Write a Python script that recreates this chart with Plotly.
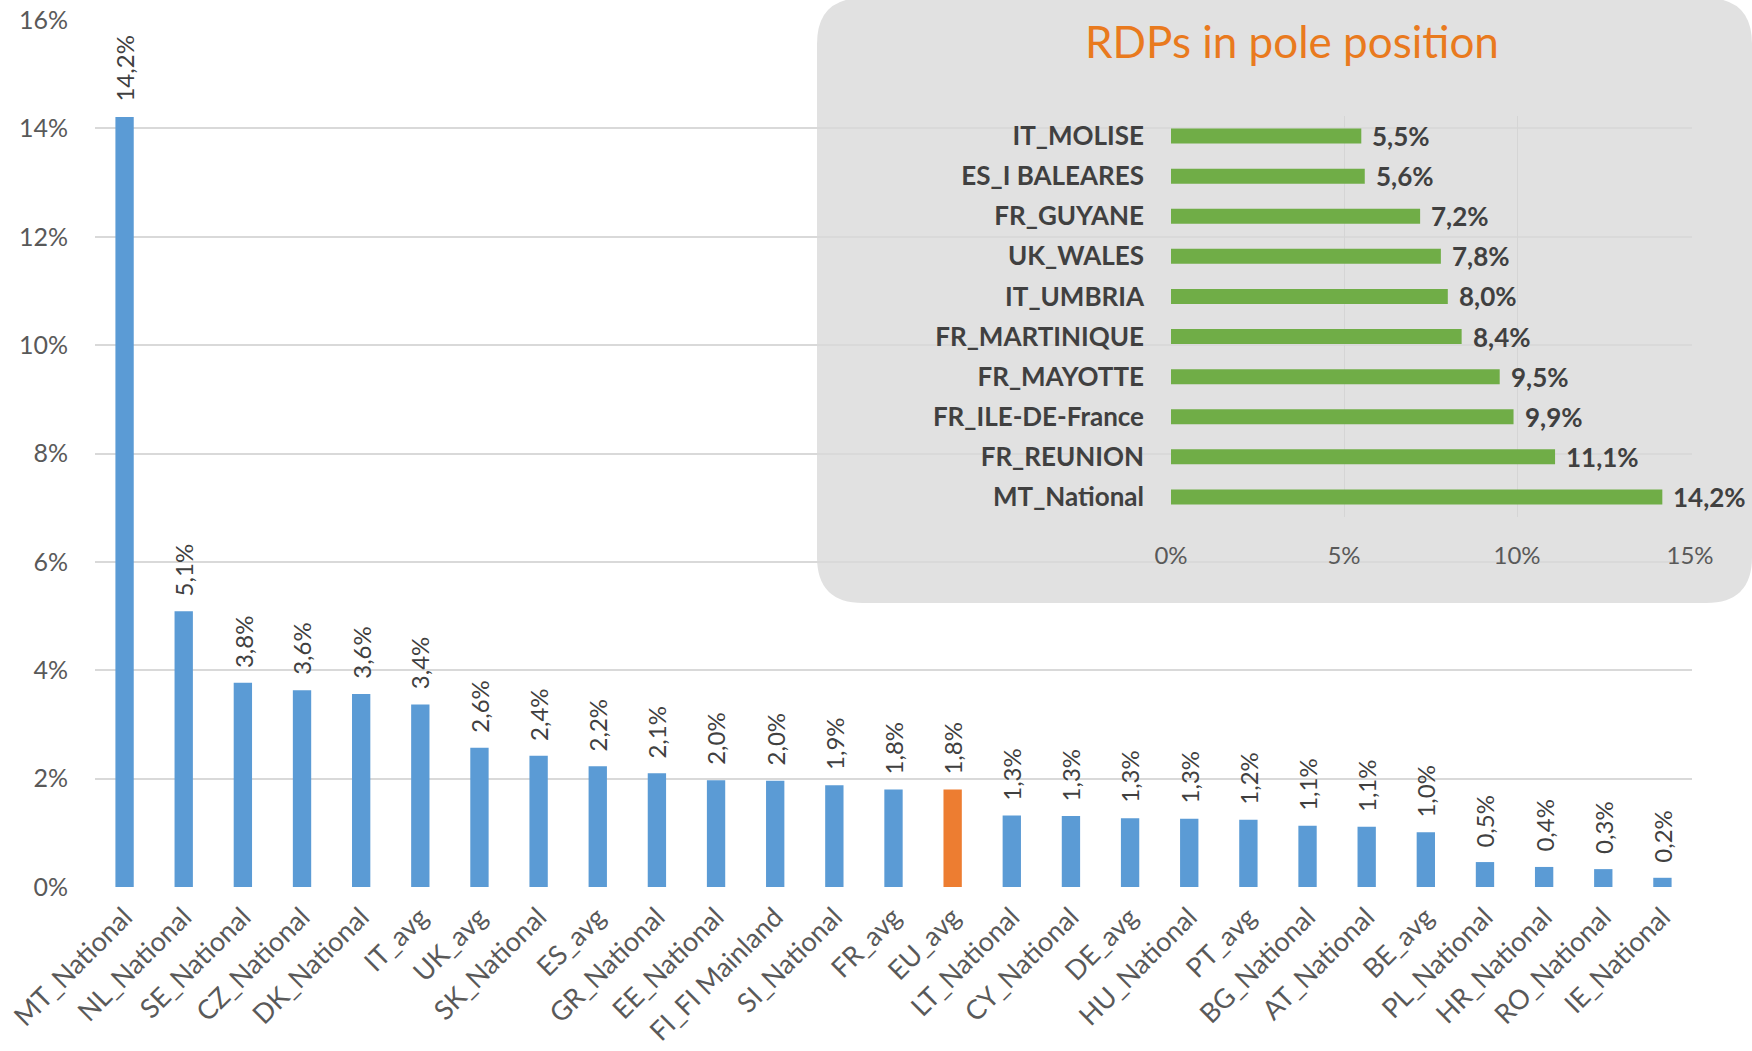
import plotly.graph_objects as go

W, H = 1752, 1051

categories = ["MT_National", "NL_National", "SE_National", "CZ_National", "DK_National",
              "IT_avg", "UK_avg", "SK_National", "ES_avg", "GR_National", "EE_National",
              "FI_FI Mainland", "SI_National", "FR_avg", "EU_avg", "LT_National",
              "CY_National", "DE_avg", "HU_National", "PT_avg", "BG_National",
              "AT_National", "BE_avg", "PL_National", "HR_National", "RO_National",
              "IE_National"]
values = [14.21, 5.09, 3.77, 3.63, 3.56, 3.37, 2.57, 2.42, 2.23, 2.10, 1.97,
          1.96, 1.88, 1.80, 1.80, 1.32, 1.31, 1.27, 1.26, 1.24, 1.13,
          1.11, 1.01, 0.46, 0.37, 0.33, 0.17]
highlight = "EU_avg"

inset_regions = ["IT_MOLISE", "ES_I BALEARES", "FR_GUYANE", "UK_WALES", "IT_UMBRIA",
                 "FR_MARTINIQUE", "FR_MAYOTTE", "FR_ILE-DE-France", "FR_REUNION",
                 "MT_National"]
inset_values = [5.5, 5.6, 7.2, 7.8, 8.0, 8.4, 9.5, 9.9, 11.1, 14.2]

inset_title = "RDPs in pole position"
y_ticks = [0, 2, 4, 6, 8, 10, 12, 14, 16]
inset_x_ticks = [0, 5, 10, 15]


def fmt(v):
    return f"{v:.1f}".replace(".", ",") + "%"


FONT = "Lato"
BLUE = "#5B9BD5"
ORANGE = "#ED7D31"
GREEN = "#70AD47"
GRID = "#D9D9D9"

fig = go.Figure()

colors = [ORANGE if c == highlight else BLUE for c in categories]
fig.add_trace(go.Bar(x=categories, y=values, marker_color=colors, marker_line_width=0,
                     xaxis="x", yaxis="y", showlegend=False, hoverinfo="x+y"))

fig.add_trace(go.Bar(x=inset_values, y=inset_regions, orientation="h",
                     marker_color=GREEN, marker_line_width=0, width=0.375,
                     xaxis="x2", yaxis="y2", showlegend=False))

annotations = []
for c, v in zip(categories, values):
    annotations.append(dict(x=c, y=v, xref="x", yref="y", text=fmt(v), textangle=-90,
                            showarrow=False, xanchor="center", yanchor="bottom", yshift=13,
                            font=dict(family=FONT, size=24, color="#404040")))
for r, v in zip(inset_regions, inset_values):
    annotations.append(dict(x=v, y=r, xref="x2", yref="y2", text=fmt(v),
                            showarrow=False, xanchor="left", yanchor="middle", xshift=9,
                            font=dict(family=FONT, size=26, color="#404040", weight="bold")))
annotations.append(dict(x=1292 / W, y=1 - 41 / H, xref="paper", yref="paper",
                        text=inset_title, showarrow=False, xanchor="center", yanchor="middle",
                        font=dict(family=FONT, size=44, color="#E97A1E")))

# rounded inset box
x0, x1 = 817 / W, 1.0
y0, y1 = 1 - 603 / H, 1.0 + 2 / H
rx, ry = 46 / W, 46 / H
path = (f"M {x0},{y1 - ry} L {x0},{y0 + ry} Q {x0},{y0} {x0 + rx},{y0} "
        f"L {x1 - rx},{y0} Q {x1},{y0} {x1},{y0 + ry} L {x1},{y1 - ry} "
        f"Q {x1},{y1} {x1 - rx},{y1} L {x0 + rx},{y1} Q {x0},{y1} {x0},{y1 - ry} Z")
shapes = [dict(type="path", path=path, xref="paper", yref="paper",
               fillcolor="#E1E1E1", line=dict(width=0), layer="below")]

fig.update_layout(
    width=W, height=H,
    margin=dict(l=0, r=0, t=0, b=0, autoexpand=False),
    paper_bgcolor="white",
    plot_bgcolor="rgba(0,0,0,0)",
    bargap=0.69,
    font=dict(family=FONT, color="#595959"),
    annotations=annotations,
    shapes=shapes,
    xaxis=dict(domain=[95 / W, 1692 / W], tickangle=-45, showgrid=False, showline=False,
               zeroline=False, tickfont=dict(size=27, color="#595959"), automargin=False,
               ticks="", ticklabelstandoff=8, fixedrange=True),
    yaxis=dict(domain=[1 - 887 / H, 1 - 20 / H], range=[0, 16], tickvals=y_ticks,
               ticktext=[f"{t}%" for t in y_ticks], showgrid=True, gridcolor=GRID,
               gridwidth=1.5, zeroline=False, showline=False, automargin=False,
               tickfont=dict(size=25, color="#595959"), ticklabelstandoff=26),
    xaxis2=dict(domain=[1171 / W, 1690 / W], anchor="y2", range=[0, 15],
                tickvals=inset_x_ticks, ticktext=[f"{t}%" for t in inset_x_ticks],
                showgrid=True, gridcolor="#D5D5D5", gridwidth=1, zeroline=False,
                showline=False, tickfont=dict(size=24, color="#595959"), automargin=False,
                ticklabelstandoff=22),
    yaxis2=dict(domain=[1 - 517 / H, 1 - 116 / H], anchor="x2", autorange="reversed",
                showgrid=False, zeroline=False, showline=False, automargin=False,
                tickfont=dict(size=26, color="#404040", weight="bold"),
                ticklabelstandoff=26),
)

fig.write_html("out.html", config={"displayModeBar": False},
               post_script="document.body.style.margin='0';document.body.style.overflow='hidden';")
